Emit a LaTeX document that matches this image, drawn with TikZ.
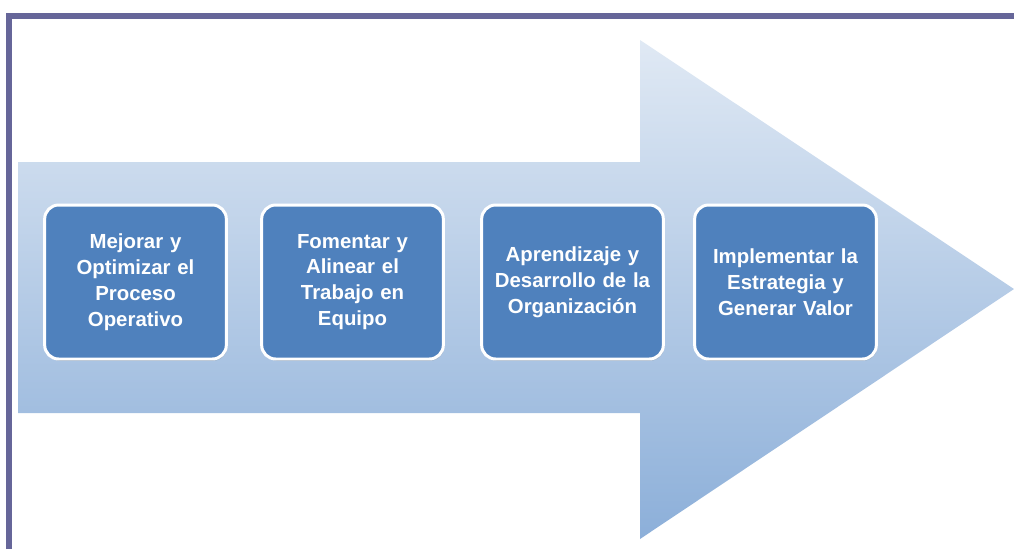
\documentclass[tikz,border=0pt]{standalone}
\usepackage{fontspec}
\setmainfont{Liberation Sans}
\usetikzlibrary{shadows}

\definecolor{framecol}{HTML}{666699}
\definecolor{boxcol}{HTML}{4F81BD}
\definecolor{arrowtop}{HTML}{E0E9F4}
\definecolor{arrowbot}{HTML}{8CAFD9}

\tikzset{
  stagebox/.style={draw=white, line width=1.7pt, fill=boxcol, rounded corners=0.28cm,
    minimum width=3.56cm, minimum height=3.08cm, text width=3.4cm, align=center,
    text=white, font=\bfseries\fontsize{11.6}{14.7}\selectfont,
    drop shadow={shadow xshift=0.5pt, shadow yshift=-1pt, opacity=0.35}}
}

\begin{document}
\begin{tikzpicture}[x=0.02cm,y=-0.02cm]

            \useasboundingbox (0,0) rectangle (1014,549);

            % Big shaded arrow behind the stages
            \shade[top color=arrowtop, bottom color=arrowbot]
                (18,162) -- (640,162) -- (640,40) -- (1014,289)
                -- (640,539) -- (640,413) -- (18,413) -- cycle;

            % Frame along the top and the left
            \draw[framecol, line width=3.4pt] (9,549) -- (9,16) -- (1014,16);

            % The four stages
            \foreach \n/\x/\txt in {
            mejorar/135.5/{Mejorar y\\Optimizar el\\Proceso\\Operativo},
            fomentar/352.5/{Fomentar y\\Alinear el\\Trabajo en\\Equipo},
            aprender/572.5/{Aprendizaje y\\Desarrollo de la\\Organización},
            implementar/785.5/{Implementar la\\Estrategia y\\Generar Valor}} {
            \node[stagebox] (\n) at (\x,282) {\txt};
            }

        \end{tikzpicture}
\end{document}
